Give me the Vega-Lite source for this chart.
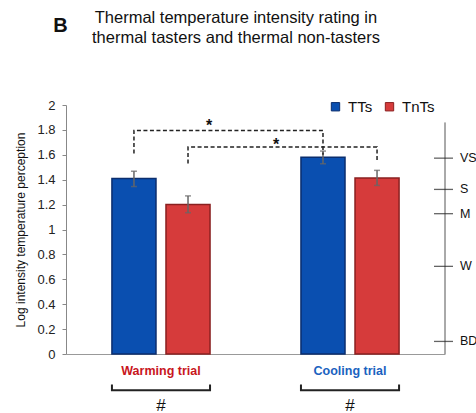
{
  "$schema": "https://vega.github.io/schema/vega-lite/v6.json",
  "width": 379,
  "height": 249,
  "autosize": "none",
  "padding": {"left": 66, "top": 105, "right": 31, "bottom": 59},
  "background": "white",
  "config": {
    "view": {"stroke": null},
    "font": "Liberation Sans",
    "axis": {"grid": false, "labelFont": "Liberation Sans", "titleFont": "Liberation Sans"}
  },
  "datasets": {
    "bars": [
      {"trial": "Warming trial", "group": "TTs", "mean": 1.41, "lo": 1.345, "hi": 1.468},
      {"trial": "Warming trial", "group": "TnTs", "mean": 1.2, "lo": 1.135, "hi": 1.27},
      {"trial": "Cooling trial", "group": "TTs", "mean": 1.58, "lo": 1.528, "hi": 1.63},
      {"trial": "Cooling trial", "group": "TnTs", "mean": 1.413, "lo": 1.354, "hi": 1.475}
    ],
    "brackets": [
      {"pair": "TTs warming vs cooling", "trial": "Warming trial", "group": "TTs", "y": 1.61, "seq": 0},
      {"pair": "TTs warming vs cooling", "trial": "Warming trial", "group": "TTs", "y": 1.795, "seq": 1},
      {"pair": "TTs warming vs cooling", "trial": "Cooling trial", "group": "TTs", "y": 1.795, "seq": 2},
      {"pair": "TTs warming vs cooling", "trial": "Cooling trial", "group": "TTs", "y": 1.6, "seq": 3},
      {"pair": "TnTs warming vs cooling", "trial": "Warming trial", "group": "TnTs", "y": 1.53, "seq": 0},
      {"pair": "TnTs warming vs cooling", "trial": "Warming trial", "group": "TnTs", "y": 1.662, "seq": 1},
      {"pair": "TnTs warming vs cooling", "trial": "Cooling trial", "group": "TnTs", "y": 1.662, "seq": 2},
      {"pair": "TnTs warming vs cooling", "trial": "Cooling trial", "group": "TnTs", "y": 1.54, "seq": 3}
    ],
    "trials": [
      {"trial": "Warming trial", "mark": "#"},
      {"trial": "Cooling trial", "mark": "#"}
    ],
    "scale": [
      {"label": "VS", "v": 1.573},
      {"label": "S", "v": 1.322},
      {"label": "M", "v": 1.127},
      {"label": "W", "v": 0.704},
      {"label": "BD", "v": 0.101}
    ]
  },
  "layer": [
    {
      "data": {"name": "bars"},
      "mark": {"type": "bar", "strokeWidth": 1.5},
      "encoding": {
        "x": {
          "field": "trial", "type": "nominal", "sort": ["Warming trial", "Cooling trial"],
          "scale": {"domain": ["Warming trial", "Cooling trial"], "paddingInner": 0.481, "paddingOuter": 0.243},
          "axis": {
            "title": null, "ticks": false, "domainColor": "#999999", "domainWidth": 1,
            "labelAngle": 0, "labelFontSize": 12.5, "labelFontWeight": "bold", "labelPadding": 10,
            "labelColor": {"condition": {"test": "datum.value === 'Warming trial'", "value": "#c8161d"}, "value": "#1a62c0"}
          }
        },
        "xOffset": {"field": "group", "type": "nominal", "scale": {"domain": ["TTs", "TnTs"], "paddingInner": 0.185, "paddingOuter": 0}},
        "y": {
          "field": "mean", "type": "quantitative",
          "scale": {"domain": [0, 2], "nice": false},
          "axis": {
            "title": "Log intensity temperature perception", "titleFontSize": 12, "titleFontWeight": "normal",
            "titleColor": "#111111", "titlePadding": 9,
            "values": [0, 0.2, 0.4, 0.6, 0.8, 1, 1.2, 1.4, 1.6, 1.8, 2], "tickCount": 12, "format": "~g",
            "labelFontSize": 13, "labelColor": "#222222", "labelPadding": 7, "labelOverlap": false,
            "tickSize": 4, "tickColor": "#888888", "domainColor": "#888888"
          }
        },
        "color": {
          "field": "group", "type": "nominal",
          "scale": {"domain": ["TTs", "TnTs"], "range": ["#0a4fb0", "#d63b3b"]},
          "legend": {
            "title": null, "orient": "none", "legendX": 262, "legendY": -6, "direction": "horizontal",
            "symbolType": "square", "symbolSize": 70, "labelFontSize": 15, "labelColor": "#111111",
            "labelOffset": 5, "columnPadding": 9, "padding": 0, "symbolStrokeWidth": 1
          }
        },
        "stroke": {
          "field": "group", "type": "nominal",
          "scale": {"domain": ["TTs", "TnTs"], "range": ["#0b2e6e", "#8a2020"]},
          "legend": null
        }
      }
    },
    {
      "data": {"name": "bars"},
      "mark": {"type": "rule", "color": "#666666", "strokeWidth": 1.5},
      "encoding": {
        "x": {"field": "trial", "type": "nominal"},
        "xOffset": {"field": "group", "type": "nominal"},
        "y": {"field": "lo", "type": "quantitative"},
        "y2": {"field": "hi"}
      }
    },
    {
      "data": {"name": "bars"},
      "mark": {"type": "tick", "color": "#666666", "thickness": 1.5, "size": 6, "orient": "horizontal"},
      "encoding": {
        "x": {"field": "trial", "type": "nominal"},
        "xOffset": {"field": "group", "type": "nominal"},
        "y": {"field": "lo", "type": "quantitative"}
      }
    },
    {
      "data": {"name": "bars"},
      "mark": {"type": "tick", "color": "#666666", "thickness": 1.5, "size": 6, "orient": "horizontal"},
      "encoding": {
        "x": {"field": "trial", "type": "nominal"},
        "xOffset": {"field": "group", "type": "nominal"},
        "y": {"field": "hi", "type": "quantitative"}
      }
    },
    {
      "data": {"name": "brackets"},
      "mark": {"type": "line", "color": "#222222", "strokeWidth": 1.5, "strokeDash": [4, 2.5]},
      "encoding": {
        "x": {"field": "trial", "type": "nominal"},
        "xOffset": {"field": "group", "type": "nominal"},
        "y": {"field": "y", "type": "quantitative"},
        "detail": {"field": "pair"},
        "order": {"field": "seq", "type": "quantitative"}
      }
    },
    {
      "data": {"values": [{"label": "*"}]},
      "mark": {"type": "text", "font": "Liberation Sans", "fontSize": 16, "fontWeight": "bold", "color": "#111111", "dx": 48, "baseline": "alphabetic"},
      "encoding": {
        "x": {"datum": "Warming trial", "type": "nominal"},
        "y": {"datum": 1.788, "type": "quantitative"},
        "text": {"field": "label"}
      }
    },
    {
      "data": {"values": [{"label": "*"}]},
      "mark": {"type": "text", "font": "Liberation Sans", "fontSize": 16, "fontWeight": "bold", "color": "#111111", "dx": 115, "baseline": "alphabetic"},
      "encoding": {
        "x": {"datum": "Warming trial", "type": "nominal"},
        "y": {"datum": 1.635, "type": "quantitative"},
        "text": {"field": "label"}
      }
    },
    {
      "data": {"name": "trials"},
      "mark": {"type": "bar", "filled": false, "stroke": "#222222", "strokeWidth": 2, "strokeDash": [110, 98.2], "strokeDashOffset": 110},
      "encoding": {
        "x": {"field": "trial", "type": "nominal"},
        "y": {"datum": -0.292, "type": "quantitative"},
        "y2": {"datum": -0.244}
      }
    },
    {
      "data": {"name": "trials"},
      "mark": {"type": "text", "font": "Liberation Sans", "fontSize": 17, "color": "#111111", "baseline": "middle"},
      "encoding": {
        "x": {"field": "trial", "type": "nominal"},
        "y": {"datum": -0.42, "type": "quantitative"},
        "text": {"field": "mark"}
      }
    },
    {
      "data": {"values": [{"part": "intensity scale line"}]},
      "mark": {"type": "rule", "color": "#555555", "strokeWidth": 1, "xOffset": 95},
      "encoding": {
        "x": {"datum": "Cooling trial", "type": "nominal"},
        "y": {"datum": 0, "type": "quantitative"},
        "y2": {"datum": 1.86}
      }
    },
    {
      "data": {"name": "scale"},
      "mark": {"type": "tick", "color": "#222222", "thickness": 1.3, "size": 19, "orient": "horizontal", "xOffset": 93.5},
      "encoding": {
        "x": {"datum": "Cooling trial", "type": "nominal"},
        "y": {"field": "v", "type": "quantitative"}
      }
    },
    {
      "data": {"name": "scale"},
      "mark": {"type": "text", "font": "Liberation Sans", "fontSize": 12.5, "color": "#111111", "align": "left", "baseline": "middle", "dx": 110},
      "encoding": {
        "x": {"datum": "Cooling trial", "type": "nominal"},
        "y": {"field": "v", "type": "quantitative"},
        "text": {"field": "label"}
      }
    },
    {
      "data": {"values": [{"label": "B"}]},
      "mark": {"type": "text", "font": "Liberation Sans", "fontSize": 20, "fontWeight": "bold", "color": "#111111", "align": "center", "baseline": "alphabetic", "dx": -100.5},
      "encoding": {
        "x": {"datum": "Warming trial", "type": "nominal"},
        "y": {"datum": 2.583, "type": "quantitative"},
        "text": {"field": "label"}
      }
    },
    {
      "data": {"values": [{"label": "Thermal temperature intensity rating in\nthermal tasters and thermal non-tasters"}]},
      "mark": {"type": "text", "font": "Liberation Sans", "fontSize": 16.5, "color": "#111111", "align": "center", "baseline": "alphabetic", "lineBreak": "\n", "lineHeight": 20, "dx": 75},
      "encoding": {
        "x": {"datum": "Warming trial", "type": "nominal"},
        "y": {"datum": 2.658, "type": "quantitative"},
        "text": {"field": "label"}
      }
    }
  ]
}
